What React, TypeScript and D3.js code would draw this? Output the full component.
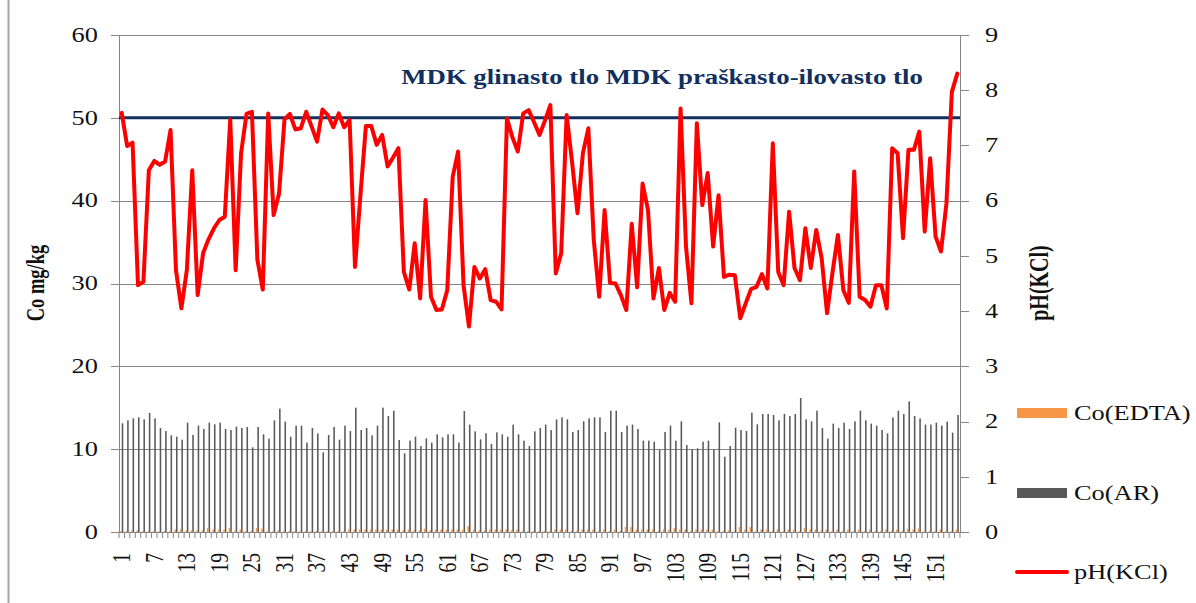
import React, { useEffect, useRef } from 'react';
import * as d3 from 'd3';

// pH(KCl) per sample
const phKcl = [
  7.59, 6.99, 7.05, 4.47, 4.53, 6.55, 6.72, 6.65, 6.71, 7.28,
  4.74, 4.05, 4.74, 6.55, 4.29, 5.05, 5.3, 5.5, 5.65, 5.71,
  7.47, 4.74, 6.86, 7.57, 7.61, 4.93, 4.39, 7.58, 5.74, 6.13,
  7.47, 7.57, 7.29, 7.31, 7.61, 7.34, 7.07, 7.65, 7.55, 7.33,
  7.58, 7.33, 7.46, 4.8, 6.1, 7.35, 7.35, 7.01, 7.19, 6.62,
  6.78, 6.95, 4.71, 4.39, 5.23, 4.23, 6.01, 4.26, 4.02, 4.03,
  4.38, 6.43, 6.89, 4.47, 3.72, 4.8, 4.59, 4.76, 4.2, 4.17,
  4.03, 7.49, 7.15, 6.89, 7.58, 7.64, 7.42, 7.19, 7.45, 7.73,
  4.68, 5.05, 7.55, 6.7, 5.77, 6.86, 7.31, 5.29, 4.26, 5.83,
  4.51, 4.5, 4.29, 4.02, 5.58, 4.43, 6.31, 5.83, 4.23, 4.78,
  4.02, 4.33, 4.17, 7.67, 5.17, 4.14, 7.4, 5.92, 6.5, 5.17,
  6.1, 4.62, 4.66, 4.65, 3.87, 4.14, 4.4, 4.44, 4.67, 4.41,
  7.04, 4.71, 4.47, 5.8, 4.78, 4.56, 5.5, 4.78, 5.47, 4.96,
  3.96, 4.7, 5.38, 4.38, 4.15, 6.53, 4.26, 4.2, 4.08, 4.47,
  4.47, 4.05, 6.95, 6.86, 5.32, 6.92, 6.92, 7.25, 5.44, 6.77,
  5.35, 5.08, 5.95, 7.97, 8.3,
];

// Co(AR) mg/kg
const coAR = [
  13.12, 13.48, 13.72, 13.84, 13.6, 14.37, 13.72, 12.56, 12.19, 11.67,
  11.51, 11.15, 13.2, 11.71, 12.84, 12.44, 13.2, 13.0, 13.2, 12.44,
  12.31, 12.72, 12.56, 12.68, 10.22, 12.68, 11.79, 11.27, 13.48, 14.89,
  13.32, 11.51, 12.84, 12.84, 10.79, 12.56, 11.91, 9.62, 11.71, 12.68,
  11.15, 12.84, 12.19, 15.01, 12.31, 12.56, 11.67, 12.84, 15.01, 14.0,
  14.65, 11.11, 9.5, 11.03, 11.51, 10.38, 11.31, 10.79, 11.79, 11.43,
  11.79, 11.79, 10.79, 14.6, 12.96, 12.15, 11.19, 11.91, 10.62, 12.03,
  11.79, 11.51, 12.96, 11.79, 11.03, 10.38, 12.15, 12.56, 12.96, 12.31,
  13.6, 13.84, 13.6, 12.07, 12.31, 13.36, 13.72, 13.84, 13.84, 12.07,
  14.65, 14.65, 12.07, 12.84, 12.96, 12.44, 11.03, 11.03, 10.9, 9.9,
  12.07, 12.84, 11.03, 13.36, 10.5, 9.98, 10.1, 10.9, 11.03, 9.98,
  13.24, 9.09, 10.38, 12.6, 12.31, 12.19, 14.41, 13.0, 14.25, 14.25,
  14.13, 13.48, 14.25, 14.0, 14.25, 16.18, 13.6, 13.36, 14.65, 12.56,
  11.27, 13.08, 12.56, 13.2, 12.44, 13.36, 14.65, 13.48, 13.08, 12.84,
  12.31, 11.91, 13.84, 14.65, 14.25, 15.77, 14.0, 13.72, 12.96, 12.96,
  13.2, 12.84, 13.32, 11.99, 14.13,
];

// Co(EDTA) mg/kg (tiny stubs on the axis)
const coEDTA = [
  0.1, 0.1, 0.2, 0.2, 0.1, 0.1, 0.1, 0.1, 0.1, 0.1,
  0.3, 0.3, 0.2, 0.2, 0.2, 0.2, 0.5, 0.3, 0.3, 0.3,
  0.5, 0.1, 0.3, 0.1, 0.1, 0.5, 0.4, 0.1, 0.1, 0.2,
  0.1, 0.1, 0.1, 0.1, 0.1, 0.1, 0.1, 0.1, 0.1, 0.1,
  0.1, 0.1, 0.3, 0.3, 0.3, 0.3, 0.3, 0.3, 0.3, 0.3,
  0.3, 0.3, 0.2, 0.3, 0.2, 0.2, 0.4, 0.2, 0.3, 0.3,
  0.3, 0.3, 0.3, 0.3, 0.7, 0.3, 0.2, 0.2, 0.3, 0.3,
  0.3, 0.3, 0.2, 0.3, 0.1, 0.1, 0.1, 0.1, 0.1, 0.1,
  0.3, 0.3, 0.3, 0.1, 0.1, 0.3, 0.3, 0.3, 0.1, 0.3,
  0.1, 0.3, 0.1, 0.6, 0.6, 0.3, 0.3, 0.3, 0.3, 0.1,
  0.3, 0.3, 0.5, 0.3, 0.3, 0.1, 0.3, 0.3, 0.3, 0.3,
  0.1, 0.1, 0.2, 0.1, 0.6, 0.3, 0.6, 0.1, 0.3, 0.3,
  0.1, 0.3, 0.1, 0.3, 0.3, 0.1, 0.5, 0.3, 0.3, 0.1,
  0.3, 0.1, 0.3, 0.1, 0.3, 0.1, 0.3, 0.1, 0.3, 0.1,
  0.1, 0.3, 0.1, 0.3, 0.1, 0.4, 0.3, 0.4, 0.1, 0.1,
  0.1, 0.3, 0.1, 0.1, 0.3,
];

const samples = phKcl.map((_, i) => String(i + 1));
const xTickLabels = ['1', '7', '13', '19', '25', '31', '37', '43', '49', '55', '61', '67', '73', '79', '85', '91', '97', '103', '109', '115', '121', '127', '133', '139', '145', '151'];
const leftTicks = [0, 10, 20, 30, 40, 50, 60];
const rightTicks = [0, 1, 2, 3, 4, 5, 6, 7, 8, 9];
const mdkLimit = 50;
const mdkLabel = 'MDK glinasto tlo MDK praškasto-ilovasto tlo';
const legendItems = [
  { label: 'Co(EDTA)', color: '#F79646', kind: 'bar' },
  { label: 'Co(AR)', color: '#595959', kind: 'bar' },
  { label: 'pH(KCl)', color: '#FF0000', kind: 'line' },
];

const W = 1196;
const H = 603;
const SX = 1.32; // the source image is stretched horizontally
const FONT = '"Liberation Serif", "Times New Roman", serif';

const App: React.FC = () => {
  const svgRef = useRef<SVGSVGElement>(null);

  useEffect(() => {
    if (!svgRef.current) return;
    const svg = d3.select(svgRef.current);
    svg.selectAll('*').remove();

    const margin = { top: 35, right: 236, bottom: 71, left: 119 };
    const x0 = margin.left;
    const x1 = W - margin.right;
    const yBottom = H - margin.bottom;

    const x = d3.scaleBand().domain(samples).range([x0, x1]);
    const xSub = d3.scaleBand().domain(['edta', 'ar']).range([0, x.bandwidth()]).paddingOuter(0.75);
    const yL = d3.scaleLinear().domain([0, 60]).range([yBottom, margin.top]);
    const yR = d3.scaleLinear().domain([0, 9]).range([yBottom, margin.top]);

    const grey = '#868686';
    const txt = (g: any, s: string, tx: number, ty: number, opts: any = {}) =>
      g.append('text')
        .attr('transform', `translate(${tx},${ty}) scale(${SX},1)${opts.rotate ? ' rotate(-90)' : ''}`)
        .attr('text-anchor', opts.anchor || 'middle')
        .attr('dominant-baseline', 'central')
        .attr('font-family', FONT)
        .attr('font-size', opts.size || 20)
        .attr('font-weight', opts.bold ? 'bold' : 'normal')
        .attr('fill', opts.fill || '#111')
        .text(s);

    // chart-area border on the left
    svg.append('line').attr('x1', 8.5).attr('x2', 8.5).attr('y1', 0).attr('y2', H)
      .attr('stroke', '#a6a6a6').attr('stroke-width', 2);

    // gridlines
    svg.append('g').selectAll('line').data(leftTicks.filter(t => t > 0)).join('line')
      .attr('x1', x0).attr('x2', x1)
      .attr('y1', d => Math.round(yL(d)) + 0.5).attr('y2', d => Math.round(yL(d)) + 0.5)
      .attr('stroke', grey).attr('stroke-width', 1);

    // bars
    const bars = svg.append('g');
    bars.selectAll('rect.ar').data(coAR).join('rect')
      .attr('x', (_, i) => (x(samples[i]) as number) + (xSub('ar') as number))
      .attr('width', xSub.bandwidth())
      .attr('y', d => yL(d))
      .attr('height', d => yBottom - yL(d))
      .attr('fill', '#595959');
    bars.selectAll('rect.edta').data(coEDTA).join('rect')
      .attr('x', (_, i) => (x(samples[i]) as number) + (xSub('edta') as number))
      .attr('width', xSub.bandwidth())
      .attr('y', d => yL(d))
      .attr('height', d => yBottom - yL(d))
      .attr('fill', '#F79646');

    // axes
    const axes = svg.append('g').attr('stroke', grey).attr('stroke-width', 1);
    axes.append('line').attr('x1', x0 + 0.5).attr('x2', x0 + 0.5).attr('y1', margin.top).attr('y2', yBottom);
    axes.append('line').attr('x1', x1 + 0.5).attr('x2', x1 + 0.5).attr('y1', margin.top).attr('y2', yBottom);
    axes.append('line').attr('x1', x0 - 8).attr('x2', x1 + 8).attr('y1', yBottom + 0.5).attr('y2', yBottom + 0.5);
    axes.selectAll('line.lt').data(leftTicks).join('line')
      .attr('x1', x0 - 8).attr('x2', x0)
      .attr('y1', d => Math.round(yL(d)) + 0.5).attr('y2', d => Math.round(yL(d)) + 0.5);
    axes.selectAll('line.rt').data(rightTicks).join('line')
      .attr('x1', x1).attr('x2', x1 + 9)
      .attr('y1', d => Math.round(yR(d)) + 0.5).attr('y2', d => Math.round(yR(d)) + 0.5);
    axes.selectAll('line.xt').data(samples.concat(['end'])).join('line')
      .attr('x1', (_, i) => x0 + i * x.step()).attr('x2', (_, i) => x0 + i * x.step())
      .attr('y1', yBottom).attr('y2', yBottom + 6);

    // MDK limit
    svg.append('line')
      .attr('x1', x0).attr('x2', x1)
      .attr('y1', yL(mdkLimit)).attr('y2', yL(mdkLimit))
      .attr('stroke', '#12305F').attr('stroke-width', 3);
    txt(svg, mdkLabel, 662, 77, { bold: true, fill: '#12305F', size: 20.3 });

    // pH line
    const line = d3.line<number>()
      .x((_, i) => (x(samples[i]) as number) + x.bandwidth() / 2)
      .y(d => yR(d));
    svg.append('path').datum(phKcl)
      .attr('fill', 'none').attr('stroke', '#FF0000').attr('stroke-width', 4)
      .attr('stroke-linejoin', 'round').attr('stroke-linecap', 'round')
      .attr('d', line);

    // tick labels
    const labels = svg.append('g');
    leftTicks.forEach(t => txt(labels, String(t), 98, yL(t), { anchor: 'end' }));
    rightTicks.forEach(t => txt(labels, String(t), 985, yR(t), { anchor: 'start' }));
    xTickLabels.forEach(t => txt(labels, t, (x(t) as number) + x.bandwidth() / 2, 553, { anchor: 'end', rotate: true, size: 19.5 }));

    // axis titles
    txt(svg, 'Co mg/kg', 36, 283, { bold: true, rotate: true, size: 18.5 });
    txt(svg, 'pH(KCl)', 1039, 283, { bold: true, rotate: true, size: 20 });

    // legend
    const legendY = [413, 493, 572];
    legendItems.forEach((it, i) => {
      const g = svg.append('g');
      if (it.kind === 'bar') {
        g.append('rect').attr('x', 1017).attr('y', legendY[i] - 5).attr('width', 50).attr('height', 10).attr('fill', it.color);
      } else {
        g.append('line').attr('x1', 1017).attr('x2', 1067).attr('y1', legendY[i]).attr('y2', legendY[i])
          .attr('stroke', it.color).attr('stroke-width', 4).attr('stroke-linecap', 'round');
      }
      txt(g, it.label, 1074, legendY[i], { anchor: 'start' });
    });
  }, []);

  return (
    <svg
      ref={svgRef}
      width={W}
      height={H}
      style={{ position: 'absolute', left: 0, top: 0, background: '#fff' }}
    />
  );
};

export default App;
